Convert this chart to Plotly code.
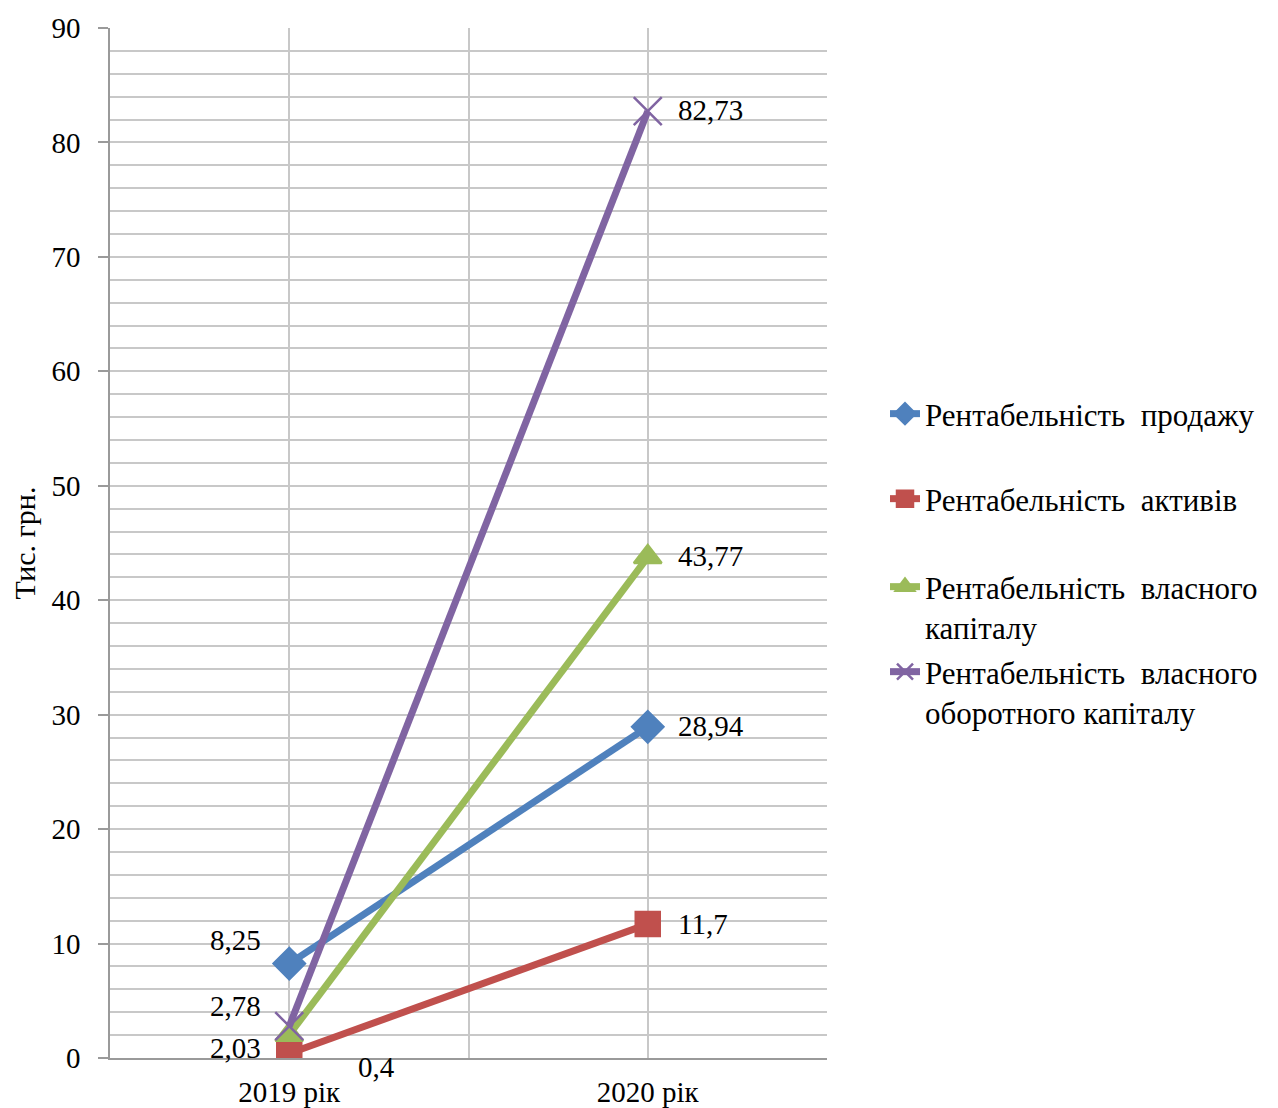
import plotly.graph_objects as go

# Categories and series values
years = ["2019 рік", "2020 рік"]
series_names = [
    "Рентабельність  продажу",
    "Рентабельність  активів",
    "Рентабельність  власного<br>капіталу",
    "Рентабельність  власного<br>оборотного капіталу",
]
sales = [8.25, 28.94]
assets = [0.4, 11.7]
equity = [2.03, 43.77]
working_equity = [2.78, 82.73]

y_ticks = [0, 10, 20, 30, 40, 50, 60, 70, 80, 90]

colors = ["#4F81BD", "#C0504D", "#9BBB59", "#8064A2"]
symbols = ["diamond", "square", "triangle-up", "x-thin-open"]
marker_sizes = [24, 24, 24, 28]
values = [sales, assets, equity, working_equity]

FONT = "Liberation Serif, Times New Roman, serif"
FS = 29
LEG_FS = 31

x_idx = list(range(len(years)))

fig = go.Figure()
legend_ids = ["legend", "legend2", "legend3", "legend4"]
for name, vals, col, sym, ms, lg in zip(series_names, values, colors, symbols, marker_sizes, legend_ids):
    fig.add_trace(go.Scatter(
        x=x_idx, y=vals, name=name, mode="lines+markers",
        line=dict(color=col, width=7),
        marker=dict(symbol=sym, size=ms, color=col,
                    line=dict(color=col, width=2.5)),
        legend=lg,
    ))

# Value labels (offsets in px from each point)
label_offsets = {
    0: [dict(xanchor="right", xshift=-26, yshift=24), dict(xanchor="left", xshift=28, yshift=1)],
    1: [dict(xanchor="center", xshift=87, yshift=-14), dict(xanchor="left", xshift=28, yshift=0)],
    2: [dict(xanchor="right", xshift=-26, yshift=-13), dict(xanchor="left", xshift=28, yshift=1)],
    3: [dict(xanchor="right", xshift=-26, yshift=20), dict(xanchor="left", xshift=28, yshift=1)],
}
for si, vals in enumerate(values):
    for i, v in enumerate(vals):
        txt = f"{v:g}".replace(".", ",")
        o = label_offsets[si][i]
        fig.add_annotation(x=x_idx[i], y=v, xref="x", yref="y", text=txt,
                           showarrow=False, yanchor="middle",
                           font=dict(family=FONT, size=FS, color="black"), **o)

# Plot area geometry in px
L, R, T, B = 110, 827, 28, 1058
W, H = 1278, 1108

def py(pix):
    return (B - pix) / (B - T)

def px(pix):
    return (pix - L) / (R - L)

legend_tops = [387, 472, 560, 645]
legend_layouts = {}
for lid, top in zip(legend_ids, legend_tops):
    legend_layouts[lid] = dict(
        x=px(885), y=py(top), xanchor="left", yanchor="top",
        font=dict(family=FONT, size=LEG_FS, color="black"),
        bgcolor="rgba(0,0,0,0)", borderwidth=0,
        valign="top", tracegroupgap=0,
    )

fig.update_layout(
    width=W, height=H,
    margin=dict(l=L, r=W - R, t=T, b=H - B, pad=0),
    plot_bgcolor="white", paper_bgcolor="white",
    font=dict(family=FONT, size=FS, color="black"),
    showlegend=True,
    **legend_layouts,
    xaxis=dict(
        range=[-0.5, 1.5],
        tickvals=[0, 0.5, 1, 1.5],
        ticktext=[years[0], "", years[1], ""],
        showgrid=True, gridcolor="#C8C8C8", gridwidth=1.5,
        showline=True, linecolor="#9A9A9A", linewidth=1.5,
        ticks="", ticklabelstandoff=7, zeroline=False, automargin=False,
        tickfont=dict(family=FONT, size=FS, color="black"),
    ),
    yaxis=dict(
        range=[0, 90], tickvals=y_ticks,
        showgrid=True, gridcolor="#C8C8C8", gridwidth=1.5,
        minor=dict(dtick=2, showgrid=True, gridcolor="#C8C8C8", gridwidth=1.5),
        showline=True, linecolor="#9A9A9A", linewidth=1.5,
        ticks="outside", ticklen=10, tickcolor="#9A9A9A", tickwidth=1.5,
        ticklabelstandoff=12, zeroline=False, automargin=False,
        tickfont=dict(family=FONT, size=FS, color="black"),
        title=dict(text="Тис. грн.", font=dict(family=FONT, size=FS + 1, color="black"), standoff=7),
    ),
)

fig.write_html("out.html")
